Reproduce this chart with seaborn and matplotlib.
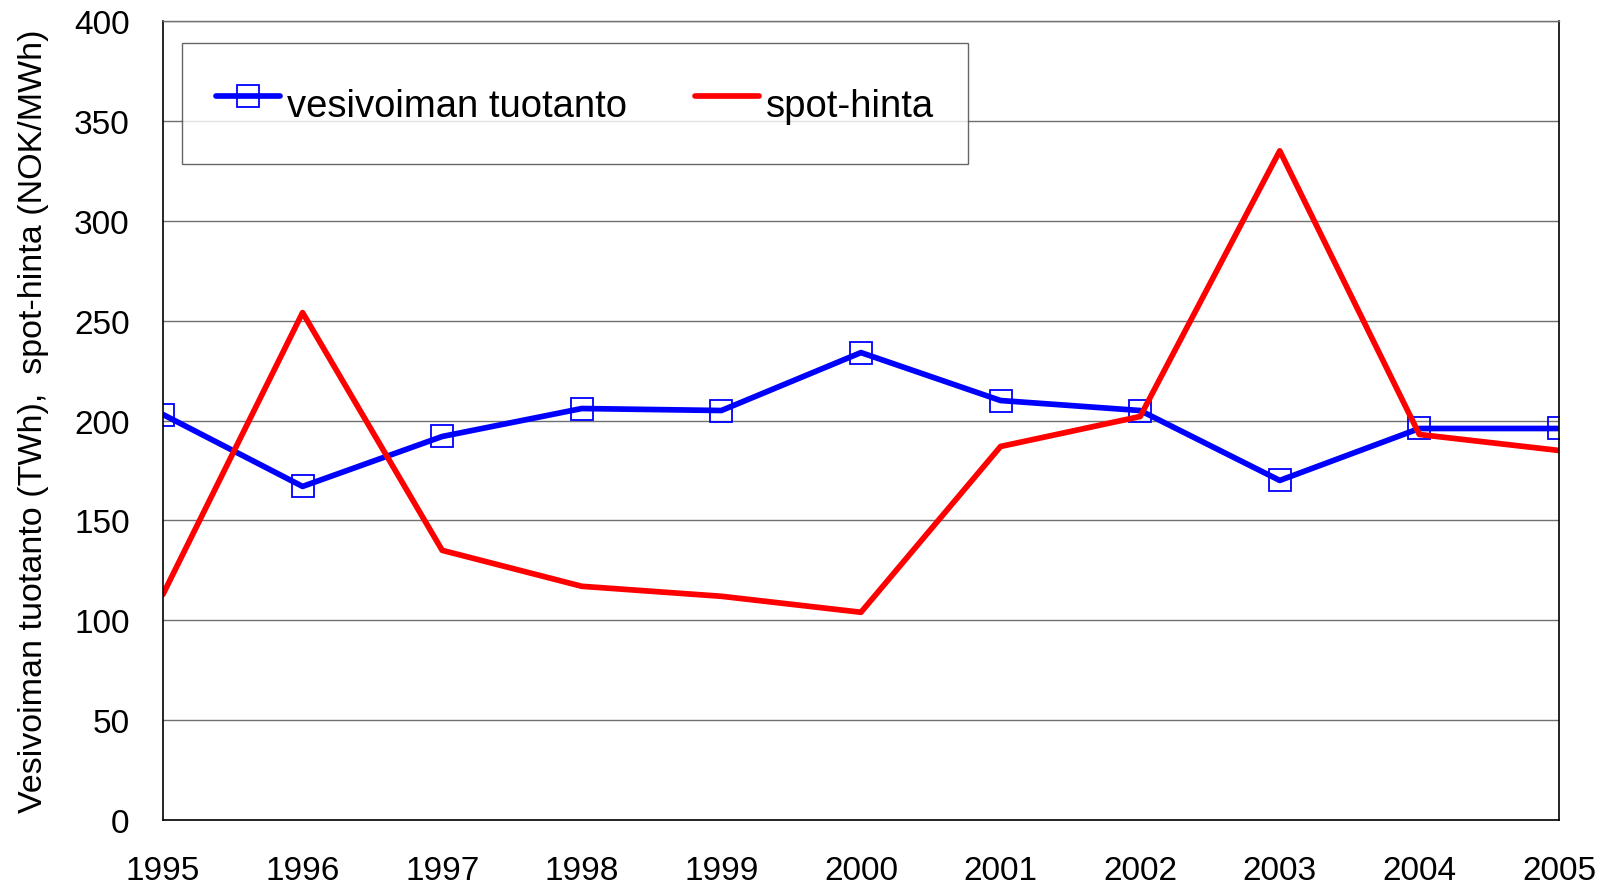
import numpy as np
import pandas as pd
import matplotlib
matplotlib.use("Agg")
import matplotlib.pyplot as plt
import seaborn as sns

# ── Data ──────────────────────────────────────────────────────────────────────
years = [1995, 1996, 1997, 1998, 1999, 2000, 2001, 2002, 2003, 2004, 2005]
vesivoima = [203, 167, 192, 206, 205, 234, 210, 205, 170, 196, 196]
spot_hinta = [113, 254, 135, 117, 112, 104, 187, 202, 335, 193, 185]

label_vesi = "vesivoiman tuotanto"
label_spot = "spot-hinta"
ylabel = "Vesivoiman tuotanto (TWh),  spot-hinta (NOK/MWh)"

df = pd.DataFrame({"year": years, label_vesi: vesivoima, label_spot: spot_hinta})

# ── Style ─────────────────────────────────────────────────────────────────────
sns.set_theme(style="white")
plt.rcParams["font.family"] = ["Liberation Sans", "DejaVu Sans"]
plt.rcParams["text.color"] = "black"
plt.rcParams["axes.labelcolor"] = "black"

fig = plt.figure(figsize=(16.17, 8.87), dpi=100)
ax = fig.add_axes([0.1008, 0.0744, 0.8633, 0.9008])

sns.lineplot(data=df, x="year", y=label_vesi, ax=ax, color="#0000FF",
             linewidth=4.1, marker="s", markersize=16, markerfacecolor="none",
             markeredgecolor="#0000FF", markeredgewidth=1.3, label=label_vesi)
sns.lineplot(data=df, x="year", y=label_spot, ax=ax, color="#FF0000",
             linewidth=4.1, label=label_spot)

ax.set_xlim(1995, 2005)
ax.set_ylim(0, 400)
ax.set_xticks(years)
ax.set_yticks(np.arange(0, 401, 50))
ax.tick_params(axis="both", labelsize=24, colors="black", direction="out",
               width=1)
ax.tick_params(axis="y", length=8, pad=16)
ax.tick_params(axis="x", length=7, pad=18)
ax.grid(axis="y", color="#707070", linewidth=1)
ax.set_axisbelow(True)

for side in ["left", "bottom", "right"]:
    ax.spines[side].set_color("black")
    ax.spines[side].set_linewidth(1.2)
ax.spines["top"].set_color("#707070")
ax.spines["top"].set_linewidth(1)

ax.set_xlabel("")
ax.set_ylabel(ylabel, fontsize=24.5, color="black")
ax.yaxis.set_label_coords(-0.0817, 0.5)

leg = ax.legend(loc="upper left", bbox_to_anchor=(182 / 1617, 1 - 44 / 887),
                bbox_transform=fig.transFigure, ncol=2, fontsize=27.5,
                frameon=True, fancybox=False, borderpad=0.89,
                handlelength=1.68, handleheight=1.75, handletextpad=0.18,
                columnspacing=1.78, borderaxespad=0, labelcolor="black")
leg.get_frame().set_edgecolor("#404040")
leg.get_frame().set_linewidth(1)

fig.savefig("out.png", dpi=100)
